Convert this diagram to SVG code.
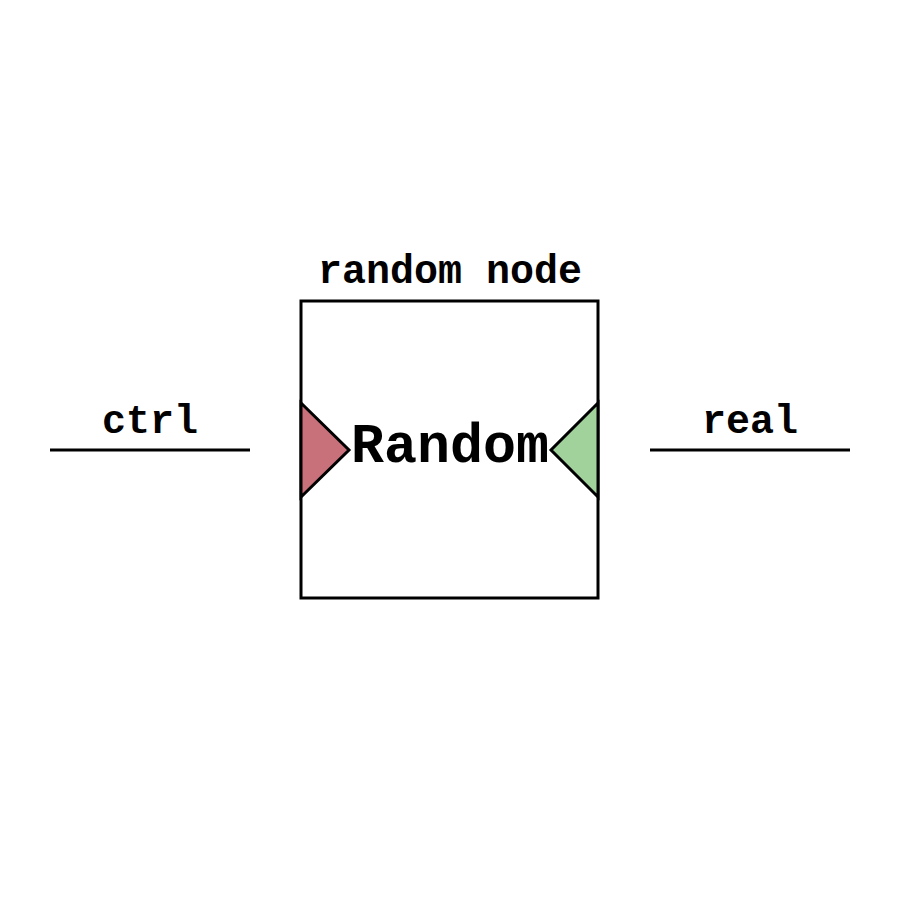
<svg xmlns="http://www.w3.org/2000/svg" width="900" height="900" viewBox="0 0 900 900">
<style>
.lbl{font-family:"Liberation Mono","Courier New",monospace;font-weight:bold;font-size:40px;text-anchor:middle;fill:#000}
.big{font-family:"Liberation Mono","Courier New",monospace;font-weight:bold;font-size:55px;text-anchor:middle;fill:#000}
.stk{stroke:#000;stroke-width:3;fill:none}
</style>
<rect width="900" height="900" fill="#fff"/>
<g id="connectors">
<line class="stk" x1="50" y1="450" x2="250" y2="450"/>
<text class="lbl" x="150" y="433">ctrl</text>
<line class="stk" x1="650" y1="450" x2="850" y2="450"/>
<text class="lbl" x="750" y="433">real</text>
</g>
<g id="random-node">
<text class="lbl" x="450" y="283">random node</text>
<rect x="301" y="301" width="297" height="297" fill="#fff" stroke="#000" stroke-width="3"/>
<polygon points="301,403 349,450 301,497" fill="#c8717a" stroke="#000" stroke-width="3" stroke-linejoin="miter"/>
<polygon points="598,403 551,450 598,497" fill="#a2d29b" stroke="#000" stroke-width="3"/>
<text class="big" x="450" y="462">Random</text>
</g>
</svg>
